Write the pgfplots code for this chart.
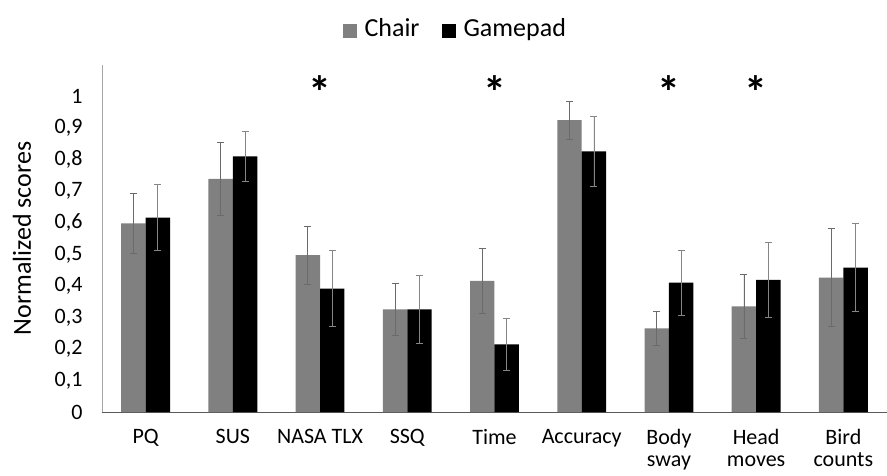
\documentclass[border=0pt]{standalone}
\usepackage{pgfplots}
\pgfplotsset{compat=1.18}
\usepackage{fontspec}
\setmainfont{Carlito}
\definecolor{chairc}{HTML}{808080}
\definecolor{padc}{HTML}{000000}
\definecolor{errA}{HTML}{6A6A6A}
\definecolor{errB}{HTML}{858585}
\definecolor{yaxc}{HTML}{A6A6A6}
\definecolor{xaxc}{HTML}{5A5A5A}
\begin{document}
\begin{tikzpicture}
\useasboundingbox (0,0) rectangle (887pt,475pt);
\begin{axis}[
  at={(102pt,63pt)}, anchor=south west,
  scale only axis, width=785pt, height=347pt,
  ybar=0pt, bar width=0.28,
  xmin=-0.5, xmax=8.5, ymin=0, ymax=1.1,
  axis x line*=bottom, axis y line*=left,
  x axis line style={xaxc, line width=0.8pt, -},
  y axis line style={yaxc, line width=0.8pt, -},
  major tick length=0pt,
  xtick={0,...,8},
  xticklabels={PQ,SUS,NASA TLX,SSQ,Time,Accuracy,{Body\\sway},{Head\\moves},{Bird\\counts}},
  xticklabel style={align=center, anchor=north, yshift=-14pt, font=\fontsize{22}{21.5}\selectfont},
  ytick={0,0.1,...,1.0},
  yticklabels={0,{0,1},{0,2},{0,3},{0,4},{0,5},{0,6},{0,7},{0,8},{0,9},1},
  yticklabel style={xshift=-16pt, font=\fontsize{22}{24}\selectfont},
  ylabel={Normalized scores},
  every axis y label/.style={at={(axis description cs:-0.102,0.5)}, rotate=90, anchor=center, font=\fontsize{26}{30}\selectfont},
  legend style={at={(0.45,1.105)}, anchor=center, legend columns=2, draw=none, fill=none,
     font=\fontsize{26}{30}\selectfont,
     /tikz/every even column/.append style={column sep=20pt}},
  error bars/y dir=both, error bars/y explicit,
]
\addplot[fill=chairc, draw=none,
  legend image code/.code={\fill[chairc] (0pt,-9pt) rectangle (14pt,5pt); \path (20pt,0pt);},
  error bars/error bar style={errA, line width=0.7pt},
  error bars/error mark options={rotate=90, errA, mark size=3.5pt, line width=0.7pt}]
coordinates {
(0,0.598) +- (0,0.095)
(1,0.739) +- (0,0.117)
(2,0.497) +- (0,0.093)
(3,0.325) +- (0,0.083)
(4,0.416) +- (0,0.104)
(5,0.925) +- (0,0.060)
(6,0.265) +- (0,0.054)
(7,0.335) +- (0,0.102)
(8,0.426) +- (0,0.156)
};
\addlegendentry{Chair}
\addplot[fill=padc, draw=none,
  legend image code/.code={\fill[padc] (0pt,-9pt) rectangle (14pt,5pt); \path (20pt,0pt);},
  error bars/error bar style={errB, line width=0.7pt},
  error bars/error mark options={rotate=90, errB, mark size=3.5pt, line width=0.7pt}]
coordinates {
(0,0.616) +- (0,0.105)
(1,0.810) +- (0,0.080)
(2,0.391) +- (0,0.120)
(3,0.325) +- (0,0.108)
(4,0.214) +- (0,0.083)
(5,0.826) +- (0,0.110)
(6,0.410) +- (0,0.103)
(7,0.419) +- (0,0.120)
(8,0.458) +- (0,0.140)
};
\addlegendentry{Gamepad}
\node[font=\fontsize{46}{46}\selectfont\bfseries] at (axis cs:2,1.013) {*};
\node[font=\fontsize{46}{46}\selectfont\bfseries] at (axis cs:4,1.013) {*};
\node[font=\fontsize{46}{46}\selectfont\bfseries] at (axis cs:6,1.013) {*};
\node[font=\fontsize{46}{46}\selectfont\bfseries] at (axis cs:7,1.013) {*};
\end{axis}
\end{tikzpicture}
\end{document}
